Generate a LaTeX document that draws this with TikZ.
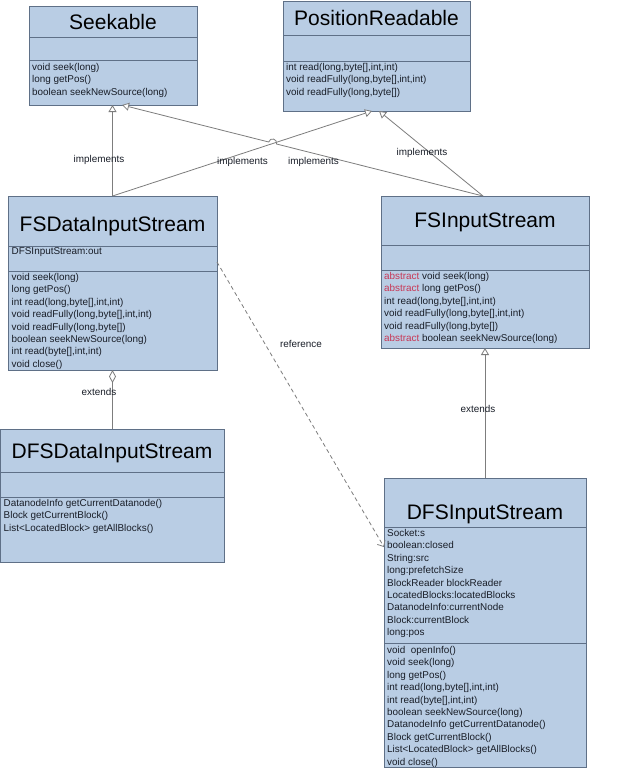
\documentclass[tikz,border=0pt]{standalone}
\usepackage{fontspec}
\setmainfont{Liberation Sans}
\usetikzlibrary{arrows.meta,calc}
\definecolor{boxfill}{RGB}{185,205,228}
\definecolor{boxline}{RGB}{95,112,135}
\definecolor{connline}{RGB}{125,125,125}
\definecolor{txt}{RGB}{25,30,40}
\definecolor{abscol}{RGB}{200,55,85}
\begin{document}
\begin{tikzpicture}[x=1pt,y=-1pt,
  cls/.style={draw=boxline, fill=boxfill, line width=0.8pt, anchor=north west, inner sep=0pt, outer sep=0pt},
  div/.style={draw=boxline, line width=0.8pt},
  ttl/.style={anchor=base, inner sep=0pt, font=\fontsize{21}{25}\selectfont, text=black},
  mem/.style={anchor=base west, inner sep=0pt, font=\fontsize{9.9}{12.4}\selectfont, text=txt},
  lbl/.style={anchor=base, inner sep=0pt, font=\fontsize{9.9}{12}\selectfont, text=txt},
  conn/.style={draw=connline, line width=0.8pt},
  realize/.style={conn, -{Triangle[open, fill=white, length=7pt, width=8pt]}},
  aggr/.style={conn, {Diamond[open, fill=white, length=13pt, width=7pt]}-},
  refer/.style={conn, dash pattern=on 4pt off 3pt, -{Straight Barb[length=5pt, width=9pt]}}
]
\fill[white] (0,0) rectangle (639,768);
\useasboundingbox (0,0) rectangle (639,768);

% ---------- boxes ----------
\node[cls, minimum width=168pt, minimum height=99pt] (seek) at (29,6) {};
\node[cls, minimum width=187pt, minimum height=110pt] (pr) at (283,1) {};
\node[cls, minimum width=209pt, minimum height=174pt] (fsd) at (8,196) {};
\node[cls, minimum width=208pt, minimum height=152pt] (fsi) at (381,196) {};
\node[cls, minimum width=224pt, minimum height=133pt] (dfsd) at (0.5,429) {};
\node[cls, minimum width=202pt, minimum height=289pt] (dfsi) at (384,478) {};

% dividers
\draw[div] (seek.west |- 0,37) -- (seek.east |- 0,37);
\draw[div] (seek.west |- 0,60) -- (seek.east |- 0,60);
\draw[div] (pr.west |- 0,35) -- (pr.east |- 0,35);
\draw[div] (pr.west |- 0,61) -- (pr.east |- 0,61);
\draw[div] (fsd.west |- 0,246) -- (fsd.east |- 0,246);
\draw[div] (fsd.west |- 0,271) -- (fsd.east |- 0,271);
\draw[div] (fsi.west |- 0,245) -- (fsi.east |- 0,245);
\draw[div] (fsi.west |- 0,270) -- (fsi.east |- 0,270);
\draw[div] (dfsd.west |- 0,472) -- (dfsd.east |- 0,472);
\draw[div] (dfsd.west |- 0,497) -- (dfsd.east |- 0,497);
\draw[div] (dfsi.west |- 0,527) -- (dfsi.east |- 0,527);
\draw[div] (dfsi.west |- 0,643) -- (dfsi.east |- 0,643);

% titles
\node[ttl] (seekT) at (113,29.5) {Seekable};
\node[ttl] (prT) at (376.5,26) {PositionReadable};
\node[ttl] (fsdT) at (112.5,231) {FSDataInputStream};
\node[ttl] (fsiT) at (485,227) {FSInputStream};
\node[ttl] (dfsdT) at (112,458) {DFSDataInputStream};
\node[ttl] (dfsiT) at (485,519) {DFSInputStream};

% members
\foreach \m [count=\i from 0] in {{void seek(long)},{long getPos()},{boolean seekNewSource(long)}}
  \node[mem] (seekM\i) at (32,70.5+12.3*\i) {\m};
\foreach \m [count=\i from 0] in {{int read(long,byte[],int,int)},{void readFully(long,byte[],int,int)},{void readFully(long,byte[])}}
  \node[mem] (prM\i) at (286,70.5+12.3*\i) {\m};
\node[mem] (fsdA0) at (11.5,254.5) {DFSInputStream:out};
\foreach \m [count=\i from 0] in {{void seek(long)},{long getPos()},{int read(long,byte[],int,int)},{void readFully(long,byte[],int,int)},{void readFully(long,byte[])},{boolean seekNewSource(long)},{int read(byte[],int,int)},{void close()}}
  \node[mem] (fsdM\i) at (11.5,280.5+12.4*\i) {\m};
\foreach \m [count=\i from 0] in {{\textcolor{abscol}{abstract} void seek(long)},{\textcolor{abscol}{abstract} long getPos()},{int read(long,byte[],int,int)},{void readFully(long,byte[],int,int)},{void readFully(long,byte[])},{\textcolor{abscol}{abstract} boolean seekNewSource(long)}}
  \node[mem] (fsiM\i) at (384,279.5+12.4*\i) {\m};
\foreach \m [count=\i from 0] in {{DatanodeInfo getCurrentDatanode()},{Block getCurrentBlock()},{List<LocatedBlock> getAllBlocks()}}
  \node[mem] (dfsdM\i) at (3.5,506.5+12.4*\i) {\m};
\foreach \m [count=\i from 0] in {{Socket:s},{boolean:closed},{String:src},{long:prefetchSize},{BlockReader blockReader},{LocatedBlocks:locatedBlocks},{DatanodeInfo:currentNode},{Block:currentBlock},{long:pos}}
  \node[mem] (dfsiA\i) at (387,536.5+12.4*\i) {\m};
\foreach \m [count=\i from 0] in {{void\ \ openInfo()},{void seek(long)},{long getPos()},{int read(long,byte[],int,int)},{int read(byte[],int,int)},{boolean seekNewSource(long)},{DatanodeInfo getCurrentDatanode()},{Block getCurrentBlock()},{List<LocatedBlock> getAllBlocks()},{void close()}}
  \node[mem] (dfsiM\i) at (387,653.5+12.4*\i) {\m};

% ---------- connectors ----------
\draw[realize] (fsd.north) -- (fsd.north |- seek.south);
\draw[realize] (fsd.north) -- ([xshift=-4.5pt]pr.south);
\coordinate (hopA) at (268.7,142);
\coordinate (hopB) at (276.5,144);
\draw[realize] ([xshift=-2pt]fsi.north) -- (hopB) .. controls ($(hopB)+(1.3,-5.2)$) and ($(hopA)+(1.3,-5.2)$) .. (hopA) -- ([xshift=9pt]seek.south);
\draw[realize] ([xshift=-2pt]fsi.north) -- ([xshift=2.5pt]pr.south);
\draw[aggr] (fsd.south) -- (fsd.south |- dfsd.north);
\draw[realize] (dfsi.north) -- (dfsi.north |- fsi.south);
\draw[refer] ([yshift=21pt]fsd.east) -- ([yshift=75.5pt]dfsi.west);

% labels
\node[lbl] (l1) at (99,162.5) {implements};
\node[lbl] (l2) at (242.5,164.5) {implements};
\node[lbl] (l3) at (313.5,164.5) {implements};
\node[lbl] (l4) at (422,155.5) {implements};
\node[lbl] (e1) at (99,395.5) {extends};
\node[lbl] (e2) at (478,412.5) {extends};
\node[lbl] (r1) at (301,347.5) {reference};
\end{tikzpicture}
\end{document}
